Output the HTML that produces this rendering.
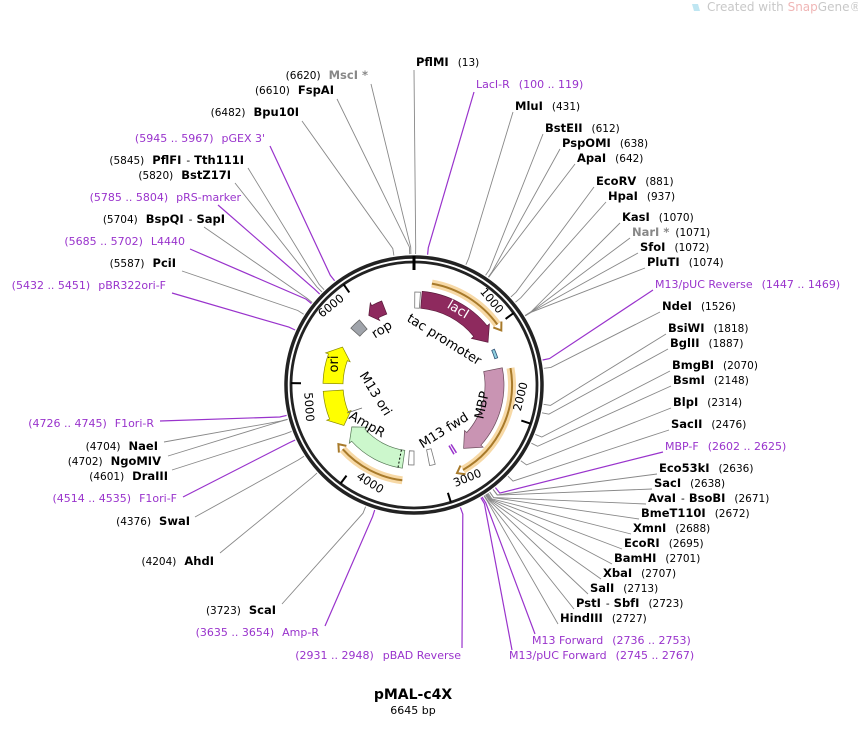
<!DOCTYPE html>
<html><head><meta charset="utf-8"><style>
html,body{margin:0;padding:0;background:#fff;}
svg{display:block;font-family:"DejaVu Sans","Liberation Sans",sans-serif;}
.n{font-weight:bold;font-size:11.5px;fill:#000;}
.p{font-size:10.5px;fill:#000;}
.g{font-weight:bold;font-size:11.5px;fill:#888;}
.u{font-size:11px;fill:#9933cc;}
.t{font-size:11.5px;fill:#000;}
</style></head><body>
<svg id="s" width="858" height="741" viewBox="0 0 858 741" xmlns="http://www.w3.org/2000/svg">
<g id="lines"></g>
<g id="feat"></g>
<circle cx="414" cy="385" r="128" fill="none" stroke="#222" stroke-width="3.5"/>
<circle cx="414" cy="385" r="123" fill="none" stroke="#222" stroke-width="2.8"/>
<g id="ticks"></g>

<g class="t">
<text transform="translate(414,385) rotate(50) translate(0,-110)" text-anchor="end">1000</text>
<text transform="translate(414,385) rotate(104) translate(0,-110) rotate(180)" text-anchor="start">2000</text>
<text transform="translate(414,385) rotate(158) translate(0,-110) rotate(180)" text-anchor="start">3000</text>
<text transform="translate(414,385) rotate(212) translate(0,-110) rotate(180)" text-anchor="start">4000</text>
<text transform="translate(414,385) rotate(266) translate(0,-110) rotate(180)" text-anchor="start">5000</text>
<text transform="translate(414,385) rotate(321) translate(0,-110)" text-anchor="end">6000</text>
</g>

<text transform="translate(456,313) rotate(31)" text-anchor="middle" font-size="13" fill="#fff">lacI</text>
<text transform="translate(442,343) rotate(32)" text-anchor="middle" font-size="13" fill="#000">tac promoter</text>
<text transform="translate(486,406) rotate(-78)" text-anchor="middle" font-size="13" fill="#000">MBP</text>
<text transform="translate(446,434) rotate(-32)" text-anchor="middle" font-size="13" fill="#000">M13 fwd</text>
<text transform="translate(365,428) rotate(30)" text-anchor="middle" font-size="13" fill="#000">AmpR</text>
<text transform="translate(372,396) rotate(58)" text-anchor="middle" font-size="13" fill="#000">M13 ori</text>
<text transform="translate(338,364) rotate(-90)" text-anchor="middle" font-size="13" fill="#000">ori</text>
<text transform="translate(384,333) rotate(-32)" text-anchor="middle" font-size="13" fill="#000">rop</text>

<text x="416" y="66"><tspan class="n">PflMI</tspan><tspan class="p" dx="9">(13)</tspan></text>
<text x="476" y="88" class="u">LacI-R<tspan dx="9">(100 .. 119)</tspan></text>
<text x="515" y="110"><tspan class="n">MluI</tspan><tspan class="p" dx="9">(431)</tspan></text>
<text x="545" y="132"><tspan class="n">BstEII</tspan><tspan class="p" dx="9">(612)</tspan></text>
<text x="562" y="147"><tspan class="n">PspOMI</tspan><tspan class="p" dx="9">(638)</tspan></text>
<text x="577" y="162"><tspan class="n">ApaI</tspan><tspan class="p" dx="9">(642)</tspan></text>
<text x="596" y="185"><tspan class="n">EcoRV</tspan><tspan class="p" dx="9">(881)</tspan></text>
<text x="608" y="200"><tspan class="n">HpaI</tspan><tspan class="p" dx="9">(937)</tspan></text>
<text x="622" y="221"><tspan class="n">KasI</tspan><tspan class="p" dx="9">(1070)</tspan></text>
<text x="632" y="236"><tspan class="g">NarI *</tspan><tspan class="p" dx="6">(1071)</tspan></text>
<text x="640" y="251"><tspan class="n">SfoI</tspan><tspan class="p" dx="9">(1072)</tspan></text>
<text x="647" y="266"><tspan class="n">PluTI</tspan><tspan class="p" dx="9">(1074)</tspan></text>
<text x="655" y="288" class="u">M13/pUC Reverse<tspan dx="9">(1447 .. 1469)</tspan></text>
<text x="662" y="310"><tspan class="n">NdeI</tspan><tspan class="p" dx="9">(1526)</tspan></text>
<text x="668" y="332"><tspan class="n">BsiWI</tspan><tspan class="p" dx="9">(1818)</tspan></text>
<text x="670" y="347"><tspan class="n">BglII</tspan><tspan class="p" dx="9">(1887)</tspan></text>
<text x="672" y="369"><tspan class="n">BmgBI</tspan><tspan class="p" dx="9">(2070)</tspan></text>
<text x="673" y="384"><tspan class="n">BsmI</tspan><tspan class="p" dx="9">(2148)</tspan></text>
<text x="673" y="406"><tspan class="n">BlpI</tspan><tspan class="p" dx="9">(2314)</tspan></text>
<text x="671" y="428"><tspan class="n">SacII</tspan><tspan class="p" dx="9">(2476)</tspan></text>
<text x="665" y="450" class="u">MBP-F<tspan dx="9">(2602 .. 2625)</tspan></text>
<text x="659" y="472"><tspan class="n">Eco53kI</tspan><tspan class="p" dx="9">(2636)</tspan></text>
<text x="654" y="487"><tspan class="n">SacI</tspan><tspan class="p" dx="9">(2638)</tspan></text>
<text x="648" y="502"><tspan class="n">AvaI</tspan><tspan class="p" dx="5">-</tspan><tspan class="n" dx="4">BsoBI</tspan><tspan class="p" dx="9">(2671)</tspan></text>
<text x="641" y="517"><tspan class="n">BmeT110I</tspan><tspan class="p" dx="9">(2672)</tspan></text>
<text x="633" y="532"><tspan class="n">XmnI</tspan><tspan class="p" dx="9">(2688)</tspan></text>
<text x="624" y="547"><tspan class="n">EcoRI</tspan><tspan class="p" dx="9">(2695)</tspan></text>
<text x="614" y="562"><tspan class="n">BamHI</tspan><tspan class="p" dx="9">(2701)</tspan></text>
<text x="603" y="577"><tspan class="n">XbaI</tspan><tspan class="p" dx="9">(2707)</tspan></text>
<text x="590" y="592"><tspan class="n">SalI</tspan><tspan class="p" dx="9">(2713)</tspan></text>
<text x="576" y="607"><tspan class="n">PstI</tspan><tspan class="p" dx="5">-</tspan><tspan class="n" dx="4">SbfI</tspan><tspan class="p" dx="9">(2723)</tspan></text>
<text x="560" y="622"><tspan class="n">HindIII</tspan><tspan class="p" dx="9">(2727)</tspan></text>
<text x="532" y="644" class="u">M13 Forward<tspan dx="9">(2736 .. 2753)</tspan></text>
<text x="509" y="659" class="u">M13/pUC Forward<tspan dx="9">(2745 .. 2767)</tspan></text>
<text x="461" y="659" class="u" text-anchor="end">(2931 .. 2948)<tspan dx="9">pBAD Reverse</tspan></text>

<g text-anchor="end">
<text x="368" y="79"><tspan class="p">(6620)</tspan><tspan class="g" dx="8">MscI *</tspan></text>
<text x="334" y="94"><tspan class="p">(6610)</tspan><tspan class="n" dx="8">FspAI</tspan></text>
<text x="299" y="116"><tspan class="p">(6482)</tspan><tspan class="n" dx="8">Bpu10I</tspan></text>
<text x="265" y="142" class="u">(5945 .. 5967)<tspan dx="8">pGEX 3'</tspan></text>
<text x="244" y="164"><tspan class="p">(5845)</tspan><tspan class="n" dx="8">PflFI</tspan><tspan class="p" dx="5">-</tspan><tspan class="n" dx="4">Tth111I</tspan></text>
<text x="231" y="179"><tspan class="p">(5820)</tspan><tspan class="n" dx="8">BstZ17I</tspan></text>
<text x="241" y="201" class="u">(5785 .. 5804)<tspan dx="8">pRS-marker</tspan></text>
<text x="225" y="223"><tspan class="p">(5704)</tspan><tspan class="n" dx="8">BspQI</tspan><tspan class="p" dx="5">-</tspan><tspan class="n" dx="4">SapI</tspan></text>
<text x="185" y="245" class="u">(5685 .. 5702)<tspan dx="8">L4440</tspan></text>
<text x="176" y="267"><tspan class="p">(5587)</tspan><tspan class="n" dx="8">PciI</tspan></text>
<text x="166" y="289" class="u">(5432 .. 5451)<tspan dx="8">pBR322ori-F</tspan></text>
<text x="154" y="427" class="u">(4726 .. 4745)<tspan dx="8">F1ori-R</tspan></text>
<text x="158" y="450"><tspan class="p">(4704)</tspan><tspan class="n" dx="8">NaeI</tspan></text>
<text x="161" y="465"><tspan class="p">(4702)</tspan><tspan class="n" dx="8">NgoMIV</tspan></text>
<text x="168" y="480"><tspan class="p">(4601)</tspan><tspan class="n" dx="8">DraIII</tspan></text>
<text x="177" y="502" class="u">(4514 .. 4535)<tspan dx="8">F1ori-F</tspan></text>
<text x="190" y="525"><tspan class="p">(4376)</tspan><tspan class="n" dx="8">SwaI</tspan></text>
<text x="214" y="565"><tspan class="p">(4204)</tspan><tspan class="n" dx="8">AhdI</tspan></text>
<text x="276" y="614"><tspan class="p">(3723)</tspan><tspan class="n" dx="8">ScaI</tspan></text>
<text x="319" y="636" class="u">(3635 .. 3654)<tspan dx="8">Amp-R</tspan></text>
</g>

<text x="413" y="699" text-anchor="middle" font-weight="bold" font-size="14">pMAL-c4X</text>
<text x="413" y="714" text-anchor="middle" font-size="11">6645 bp</text>

<path d="M692,4 L698,4 L700,11 L694,11 Z" fill="#bfe6f2"/>
<text x="707" y="11" font-size="12" fill="#c8c8c8">Created with <tspan fill="#f0b6b6">Snap</tspan>Gene®</text>
</svg>
<script>
var NS="http://www.w3.org/2000/svg",CX=414,CY=385;
function P(a,r){a=a*Math.PI/180;return [(CX+r*Math.sin(a)).toFixed(1),(CY-r*Math.cos(a)).toFixed(1)];}
function el(g,t,at){var e=document.createElementNS(NS,t);for(var k in at)e.setAttribute(k,at[k]);document.getElementById(g).appendChild(e);return e;}
function A(bp){return bp/6645*360;}
var L=[[13,414,70,0],[110,474,92,1],[431,513,112,0],[612,543,134,0],[638,560,149,0],[642,575,164,0],[881,594,187,0],[937,606,202,0],[1070,620,223,0],[1071,630,238,0],[1072,638,253,0],[1074,645,268,0],[1458,653,290,1],[1526,660,312,0],[1818,666,334,0],[1887,668,349,0],[2070,670,371,0],[2148,671,386,0],[2314,671,408,0],[2476,669,430,0],[2613,663,452,1],[2636,657,474,0],[2638,652,489,0],[2671,646,504,0],[2672,639,519,0],[2688,631,534,0],[2695,622,549,0],[2701,612,564,0],[2707,601,579,0],[2713,588,594,0],[2723,574,609,0],[2727,558,624,0],[2744,535,634,1],[2756,512,650,1],[2940,462,648,1],
[6620,371,84,0],[6610,337,99,0],[6482,302,121,0],[5956,270,146,1],[5845,248,168,0],[5820,235,183,0],[5795,218,205,1],[5704,204,227,0],[5694,190,249,1],[5587,182,271,0],[5442,172,293,1],[4736,160,421,1],[4704,164,442,0],[4702,168,456,0],[4601,172,470,0],[4525,183,497,1],[4376,195,517,0],[4204,220,553,0],[3723,282,604,0],[3645,325,626,1]];
L.forEach(function(l){var a=A(l[0]),p1=P(a,131),p2=P(a,138);var c=l[3]?"#9933cc":"#888";
el("lines","polyline",{points:p1.join(",")+" "+p2.join(",")+" "+l[1]+","+l[2],fill:"none",stroke:c,"stroke-width":l[3]?1.2:0.9});});
el("ticks","line",{x1:414,y1:256,x2:414,y2:270,stroke:"#000","stroke-width":3});
for(var i=1;i<=6;i++){var a=A(i*1000),p=P(a,123),q=P(a,113);el("ticks","line",{x1:p[0],y1:p[1],x2:q[0],y2:q[1],stroke:"#000","stroke-width":2});}
function arrow(a1,a2,r1,r2,h,fill,stroke){var d=a2>a1?1:-1,ab=a2-d*h,rm=(r1+r2)/2,sw=d>0?1:0,sw2=d>0?0:1;
var lg=Math.abs(ab-a1)>180?1:0;var p1=P(a1,r2),p2=P(ab,r2),p2b=P(ab,r2+3),t=P(a2,rm),p3b=P(ab,r1-3),p3=P(ab,r1),p4=P(a1,r1);
var dd="M"+p1+" A"+r2+","+r2+" 0 "+lg+" "+sw+" "+p2+" L"+p2b+" L"+t+" L"+p3b+" L"+p3+" A"+r1+","+r1+" 0 "+lg+" "+sw2+" "+p4+" Z";
el("feat","path",{d:dd,fill:fill,stroke:stroke||"#444","stroke-width":0.7});}
function box(a1,a2,r1,r2,fill,stroke){var p1=P(a1,r2),p2=P(a2,r2),p3=P(a2,r1),p4=P(a1,r1);
el("feat","path",{d:"M"+p1+" A"+r2+","+r2+" 0 0 1 "+p2+" L"+p3+" A"+r1+","+r1+" 0 0 0 "+p4+" Z",fill:fill,stroke:stroke,"stroke-width":0.8});}
function orange(a1,a2,r){var d=a2>a1?1:-1,ab=a2-d*4,sw=d>0?1:0;var p1=P(a1,r),p2=P(ab,r);
var dd="M"+p1+" A"+r+","+r+" 0 0 "+sw+" "+p2;
el("feat","path",{d:dd,fill:"none",stroke:"#f7d9a6","stroke-width":8});
el("feat","path",{d:dd,fill:"none",stroke:"#a87a2a","stroke-width":2});
var t=P(a2,r),o=P(ab,r+5),i2=P(ab,r-5);el("feat","path",{d:"M"+o+" L"+t+" L"+i2,fill:"none",stroke:"#a87a2a","stroke-width":2});}
orange(10,58,103);orange(80,154,98);orange(187,232,96);
arrow(5,60,77,94,9,"#8e2a5e","#5a1a3a");
arrow(79,142,71,90,10,"#c994b3","#6a4a5a");
arrow(188,236,66,84,8,"#ccf7cc","#557755");
arrow(271,298,71,91,8,"#ffff00","#888800");
arrow(266,240,71,91,8,"#ffff00","#888800");
arrow(339,327,76,90,5,"#8e2a5e","#5a1a3a");
box(312,320,73,85,"#a0a4ab","#6a6a6a");
box(0.5,4,77,93,"#fff","#777");
box(180,184,66,80,"#fff","#777");
box(165,169,66,82,"#fff","#777");
box(66,72,85,88,"#8fd0e0","#357");
var q1=P(191,66),q2=P(191,84);el("feat","line",{x1:q1[0],y1:q1[1],x2:q2[0],y2:q2[1],stroke:"#000","stroke-width":1,"stroke-dasharray":"2,2"});
var m1=P(150,70),m2=P(150,80);el("feat","line",{x1:m1[0],y1:m1[1],x2:m2[0],y2:m2[1],stroke:"#9933cc","stroke-width":1.5});
var m3=P(148,70),m4=P(148,80);el("feat","line",{x1:m3[0],y1:m3[1],x2:m4[0],y2:m4[1],stroke:"#9933cc","stroke-width":1.5});
el("feat","line",{x1:347,y1:413,x2:362,y2:408,stroke:"#666","stroke-width":0.8});
</script>
</body></html>
